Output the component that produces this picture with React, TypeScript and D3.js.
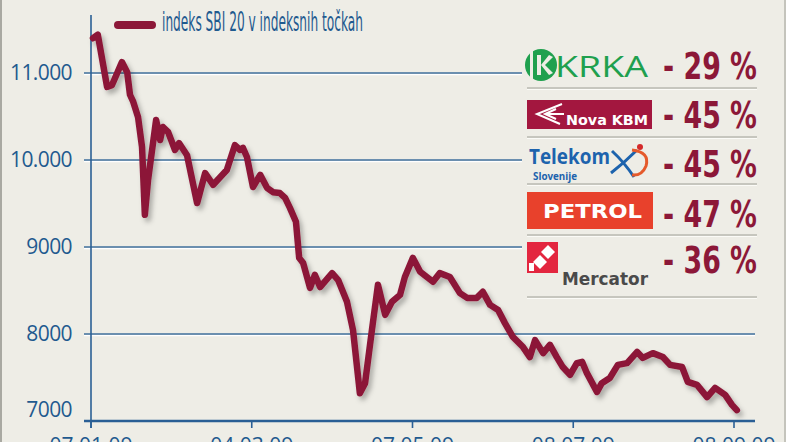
import React from "react";
import * as d3 from "d3";

// ---- data ----
const sessions = [
  0.5, 1.7, 4.0, 5.2, 7.7, 9.0, 9.7, 10.5, 11.7, 12.7, 13.4, 14.2, 16.2, 17.2, 17.9, 19.2,
  20.9, 21.9, 23.9, 26.4, 28.4, 30.4, 33.8, 35.8, 37.1, 37.8, 38.8, 40.3, 42.1, 43.8, 45.3,
  47.0, 48.3, 49.5, 51.0, 51.8, 52.8, 54.5, 55.7, 57.0, 60.0, 61.5, 63.7, 65.2, 66.9, 68.2,
  69.9, 71.4, 73.2, 74.9, 76.9, 78.1, 80.1, 81.9, 85.1, 86.8, 89.3, 91.8, 93.6, 96.0, 97.5,
  99.3, 101.3, 103.0, 105.0, 107.5, 109.2, 110.5, 112.5, 114.2, 115.9, 117.4, 119.2, 120.9,
  122.2, 123.4, 125.9, 127.1, 129.1, 131.1, 133.4, 135.9, 137.3, 139.8, 142.3, 144.1, 147.1,
  148.5, 150.8, 153.3, 155.3, 157.8, 159.5, 160.7,
];
const sbi20 = [
  11400, 11440, 10840, 10860, 11125, 11010, 10750, 10670, 10495, 10150, 9370, 9770, 10460,
  10230, 10380, 10320, 10115, 10195, 10055, 9505, 9850, 9715, 9885, 10170, 10115, 10140,
  10035, 9690, 9830, 9680, 9630, 9620, 9565, 9450, 9290, 8875, 8815, 8530, 8680, 8540, 8700,
  8620, 8370, 8045, 7320, 7435, 8045, 8565, 8220, 8370, 8450, 8655, 8875, 8715, 8600, 8700,
  8655, 8470, 8415, 8415, 8485, 8335, 8275, 8125, 7965, 7850, 7735, 7930, 7780, 7875, 7735,
  7620, 7530, 7665, 7680, 7550, 7335, 7435, 7495, 7645, 7665, 7795, 7725, 7780, 7735, 7645,
  7620, 7450, 7415, 7275, 7380, 7300, 7185, 7125,
];
const yTicks = [7000, 8000, 9000, 10000, 11000];
const yTickLabels = ["7000", "8000", "9000", "10.000", "11.000"];
const xTickSessions = [0, 40, 80, 120, 160];
const xTickLabels = ["07.01.09", "04.03.09", "07.05.09", "08.07.09", "08.09.09"];
const legendLabel = "indeks SBI 20 v indeksnih točkah";
const companies = ["KRKA", "Nova KBM", "Telekom", "PETROL", "Mercator"];
const changes = ["- 29 %", "- 45 %", "- 45 %", "- 47 %", "- 36 %"];

const W = 786;
const H = 442;
const BLUE = "#1f5a8f";
const CRIMSON = "#8c1838";
const COND = "'Liberation Sans Narrow', 'DejaVu Sans Condensed', 'Roboto', sans-serif";

export default function App() {
  const x = d3.scaleLinear().domain([0, 160]).range([91, 734]);
  const y = d3.scaleLinear().domain([7000, 11000]).range([421, 73]);
  const pts = sessions.map((s, i) => [s, sbi20[i]] as [number, number]);
  const line = d3
    .line<[number, number]>()
    .x((d) => x(d[0]))
    .y((d) => y(d[1]))
    .curve(d3.curveLinear);

  const rowBase = [79, 128, 177, 227, 273];
  const seps = [88, 137, 184, 235, 297];

  return (
    <svg
      width={W}
      height={H}
      style={{ position: "fixed", left: 0, top: 0 }}
      xmlns="http://www.w3.org/2000/svg"
    >
      <defs>
        <filter id="sh" x="-10%" y="-10%" width="130%" height="130%">
          <feDropShadow dx="3" dy="4" stdDeviation="2.5" floodColor="#000" floodOpacity="0.28" />
        </filter>
      </defs>
      <rect x={0} y={0} width={W} height={H} fill="#eeede6" />
      <rect x={0} y={0} width={2} height={H} fill="#a9a9a2" />
      <rect x={W - 2} y={0} width={2} height={H} fill="#c4c4bc" />

      {/* gridlines */}
      {yTicks.map((t) => {
        if (t === 7000) return null;
        const x2 = t === 8000 ? 755 : 522;
        return (
          <g key={t}>
            <line x1={84} x2={x2} y1={y(t) + 1.6} y2={y(t) + 1.6} stroke="#ffffff" strokeWidth={1.2} />
            <line x1={84} x2={x2} y1={y(t)} y2={y(t)} stroke="#3f6f9c" strokeWidth={1.6} />
          </g>
        );
      })}
      {/* y axis */}
      <line x1={91} x2={91} y1={15} y2={428} stroke="#2a5f95" strokeWidth={1.6} />
      {/* x axis */}
      <line x1={84} x2={755} y1={421} y2={421} stroke="#2a5f95" strokeWidth={2.4} />
      {xTickSessions.map((s, i) => (
        <g key={s}>
          <line x1={x(s)} x2={x(s)} y1={421} y2={428} stroke="#2a5f95" strokeWidth={1.6} />
          <text
            x={x(s)}
            y={453}
            textAnchor="middle"
            fontFamily="'Open Sans', sans-serif"
            fontSize={21}
            fill={BLUE}
          >
            {xTickLabels[i]}
          </text>
        </g>
      ))}
      {/* y tick labels */}
      {yTicks.map((t, i) => (
        <text
          key={t}
          x={72}
          y={Math.min(y(t), 410) + 7}
          textAnchor="end"
          fontFamily="'Open Sans', sans-serif"
          fontSize={21}
          letterSpacing={-0.6}
          fill={BLUE}
        >
          {yTickLabels[i]}
        </text>
      ))}

      {/* legend */}
      <line x1={118} x2={152} y1={25} y2={25} stroke={CRIMSON} strokeWidth={8} strokeLinecap="round" />
      <text
        x={162}
        y={31}
        fontFamily={COND}
        fontSize={26}
        fill={BLUE}
        textLength={201}
        lengthAdjust="spacingAndGlyphs"
      >
        {legendLabel}
      </text>

      {/* data line */}
      <path
        d={line(pts) || ""}
        fill="none"
        stroke={CRIMSON}
        strokeWidth={6.5}
        strokeLinejoin="round"
        strokeLinecap="round"
        filter="url(#sh)"
      />

      {/* right panel */}
      {seps.map((s) => (
        <g key={s}>
          <line x1={527} x2={757} y1={s} y2={s} stroke="#b9b8b0" strokeWidth={1.5} />
          <line x1={527} x2={757} y1={s + 1.5} y2={s + 1.5} stroke="#fbfbf7" strokeWidth={1} />
        </g>
      ))}
      {changes.map((c, i) => (
        <text
          key={i}
          x={757}
          y={rowBase[i]}
          textAnchor="end"
          fontFamily={COND}
          fontWeight="bold"
          fontSize={38}
          fill={CRIMSON}
          textLength={94}
          lengthAdjust="spacingAndGlyphs"
        >
          {c}
        </text>
      ))}

      {/* KRKA logo */}
      <g>
        <circle cx={541} cy={65} r={16} fill="#1fa04e" />
        <rect x={530} y={48} width={3} height={34} fill="#eeede6" />
        <path d="M537 55 L541 55 L541 75 L537 75 Z M541 65 L549 55 L553 57 L545 65 L553 73 L549 75 Z" fill="#eeede6" />
        <text
          x={555}
          y={77}
          fontFamily="'Open Sans', sans-serif"
          fontSize={29}
          fill="#1fa04e"
          textLength={93}
          lengthAdjust="spacingAndGlyphs"
        >
          {companies[0].toUpperCase()}
        </text>
      </g>

      {/* Nova KBM logo */}
      <g>
        <rect x={527} y={100} width={125} height={29} fill="#a3173f" />
        <path d="M562 104 L537 114 L560 124 M556 109 L545 114 L556 119 M546 114 L564 114" fill="none" stroke="#fff" strokeWidth={2} />
        <text
          x={566}
          y={125}
          fontFamily="'DejaVu Sans', sans-serif"
          fontWeight="bold"
          fontSize={14}
          fill="#fff"
          textLength={82}
          lengthAdjust="spacingAndGlyphs"
        >
          {companies[1]}
        </text>
      </g>

      {/* Telekom logo */}
      <g>
        <text
          x={529}
          y={164}
          fontFamily="'Open Sans', sans-serif"
          fontWeight="bold"
          fontSize={21}
          fill="#1d63ad"
          textLength={81}
          lengthAdjust="spacingAndGlyphs"
        >
          {companies[2]}
        </text>
        <text
          x={533}
          y={180}
          fontFamily="'Open Sans', sans-serif"
          fontWeight="bold"
          fontSize={10}
          fill="#1d63ad"
          textLength={44}
          lengthAdjust="spacingAndGlyphs"
        >
          Slovenije
        </text>
        <path d="M612 151 Q 624 162 634 177 M611 173 Q 624 163 637 150" fill="none" stroke="#1d63ad" strokeWidth={3} />
        <path d="M632 150 Q 650 152 646 166 Q 642 176 632 175" fill="none" stroke="#e55a2b" strokeWidth={3} />
        <circle cx={640} cy={147} r={3} fill="#d42a2a" />
      </g>

      {/* PETROL logo */}
      <g>
        <rect x={527} y={192} width={126} height={37} fill="#e8412c" />
        <text
          x={543}
          y={218}
          fontFamily="'DejaVu Sans', sans-serif"
          fontWeight="bold"
          fontSize={20}
          fill="#fff"
          textLength={99}
          lengthAdjust="spacingAndGlyphs"
        >
          {companies[3]}
        </text>
      </g>

      {/* Mercator logo */}
      <g>
        <rect x={527} y={242} width={31} height={31} fill="#e3263f" />
        <path d="M533 262 L540 255 L547 262 L540 269 Z" fill="#fff" />
        <path d="M541 252 L548 245 L555 252 L548 259 Z" fill="#fff" />
        <rect x={529} y={263} width={5} height={8} fill="#fff" />
        <text
          x={562}
          y={285}
          fontFamily="'DejaVu Sans', sans-serif"
          fontWeight="bold"
          fontSize={17}
          fill="#4a4a4a"
          textLength={86}
          lengthAdjust="spacingAndGlyphs"
        >
          {companies[4]}
        </text>
      </g>
    </svg>
  );
}
